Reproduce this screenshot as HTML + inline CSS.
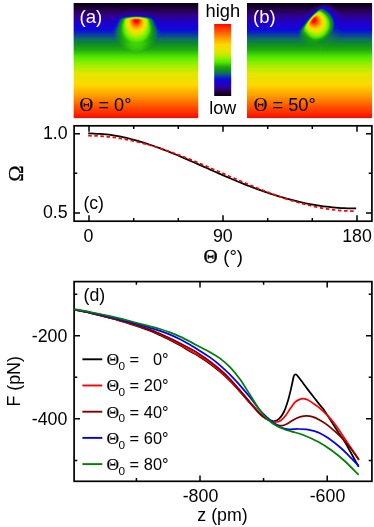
<!DOCTYPE html>
<html lang="en"><head><meta charset="utf-8"><title>Figure</title>
<style>html,body{margin:0;padding:0;background:#fff}svg{display:block}text{font-family:"Liberation Sans",sans-serif;fill:#000}.sy{font-family:"Liberation Serif","DejaVu Serif",serif;stroke:#000;stroke-width:.12}.ax{fill:none;stroke:#000;stroke-width:1.7}.tk{stroke:#000;stroke-width:1.5;fill:none}.cv{fill:none;stroke-width:1.75;stroke-linejoin:round}</style></head><body>
<svg width="374" height="527" viewBox="0 0 374 527">
<defs>
<filter id="cmap" x="0" y="0" width="1" height="1" filterUnits="objectBoundingBox" color-interpolation-filters="sRGB"><feComponentTransfer><feFuncR type="table" tableValues="0.031 0.055 0.086 0.121 0.156 0.168 0.179 0.185 0.169 0.154 0.138 0.123 0.108 0.093 0.077 0.062 0.051 0.039 0.035 0.047 0.059 0.063 0.063 0.063 0.084 0.107 0.135 0.182 0.229 0.275 0.326 0.395 0.464 0.533 0.600 0.656 0.711 0.766 0.821 0.876 0.896 0.915 0.934 0.952 0.971 0.989 1.000 1.000 1.000 1.000 1.000 1.000 1.000 1.000 1.000 1.000 1.000 1.000 1.000 1.000 1.000 1.000 0.996 0.988 0.980"/><feFuncG type="table" tableValues="0.000 0.000 0.000 0.000 0.000 0.000 0.000 0.000 0.000 0.000 0.000 0.001 0.009 0.016 0.024 0.033 0.115 0.197 0.275 0.347 0.419 0.471 0.516 0.560 0.596 0.631 0.672 0.734 0.796 0.859 0.911 0.919 0.926 0.934 0.941 0.935 0.928 0.922 0.916 0.910 0.901 0.891 0.881 0.872 0.862 0.853 0.830 0.790 0.751 0.711 0.671 0.632 0.591 0.543 0.494 0.446 0.398 0.349 0.302 0.260 0.218 0.175 0.129 0.080 0.031"/><feFuncB type="table" tableValues="0.063 0.109 0.171 0.241 0.311 0.391 0.471 0.547 0.609 0.671 0.734 0.788 0.811 0.834 0.856 0.876 0.783 0.689 0.595 0.500 0.404 0.313 0.224 0.135 0.105 0.081 0.060 0.044 0.028 0.013 0.000 0.000 0.000 0.000 0.000 0.000 0.000 0.000 0.000 0.000 0.000 0.000 0.000 0.000 0.000 0.000 0.000 0.000 0.000 0.000 0.000 0.000 0.000 0.000 0.000 0.000 0.000 0.000 0.000 0.000 0.000 0.000 0.000 0.000 0.000"/></feComponentTransfer></filter>
<linearGradient id="bg" x1="0" y1="0" x2="0" y2="1"><stop offset="0" stop-color="#000"/><stop offset="1" stop-color="#fff"/></linearGradient>
<linearGradient id="cb" x1="0" y1="0" x2="0" y2="1"><stop offset="0" stop-color="#fff"/><stop offset="1" stop-color="#000"/></linearGradient>
<radialGradient id="blob" cx="0.5" cy="0.5" r="0.5"><stop offset="0.00" stop-color="#fff" stop-opacity="1.00"/><stop offset="0.07" stop-color="#fff" stop-opacity="1.00"/><stop offset="0.14" stop-color="#fff" stop-opacity="0.86"/><stop offset="0.23" stop-color="#fff" stop-opacity="0.67"/><stop offset="0.35" stop-color="#fff" stop-opacity="0.45"/><stop offset="0.46" stop-color="#fff" stop-opacity="0.25"/><stop offset="0.56" stop-color="#fff" stop-opacity="0.14"/><stop offset="0.62" stop-color="#fff" stop-opacity="0.09"/><stop offset="0.68" stop-color="#fff" stop-opacity="0.05"/><stop offset="0.78" stop-color="#fff" stop-opacity="0.03"/><stop offset="1.00" stop-color="#fff" stop-opacity="0.00"/></radialGradient>
<radialGradient id="body" cx="0.5" cy="0.5" r="0.5"><stop offset="0" stop-color="#fff" stop-opacity="0.14"/><stop offset="0.4" stop-color="#fff" stop-opacity="0.14"/><stop offset="0.7" stop-color="#fff" stop-opacity="0.085"/><stop offset="1" stop-color="#fff" stop-opacity="0"/></radialGradient>
<radialGradient id="halo" cx="0.5" cy="0.5" r="0.5"><stop offset="0" stop-color="#fff" stop-opacity="0.12"/><stop offset="0.6" stop-color="#fff" stop-opacity="0.08"/><stop offset="1" stop-color="#fff" stop-opacity="0"/></radialGradient>
<filter id="mb" x="-60" y="-60" width="120" height="140" filterUnits="userSpaceOnUse"><feGaussianBlur stdDeviation="0.9"/></filter>
<mask id="cut" maskUnits="userSpaceOnUse" x="-50" y="-50" width="100" height="120"><path filter="url(#mb)" fill="#fff" d="M-48 66V15C-33 15-21 13-21 5Q-21-2.2-13-2.2H13Q21-2.2 21 5C21 13 33 15 48 15V66Z"/></mask>
<clipPath id="clA"><rect x="73.4" y="3" width="125.1" height="115.3"/></clipPath>
<clipPath id="clB"><rect x="247" y="3" width="125.3" height="115.3"/></clipPath>
</defs>
<g filter="url(#cmap)"><g clip-path="url(#clA)"><rect x="73.4" y="3" width="125.1" height="115.3" fill="url(#bg)"/><g transform="translate(136.4 20.0) rotate(0.0)"><ellipse cx="0" cy="6" rx="25" ry="16" fill="url(#halo)"/><g mask="url(#cut)"><ellipse cx="0" cy="14" rx="22" ry="18" fill="url(#body)"/><ellipse cx="0" cy="0" rx="28" ry="33" fill="url(#blob)"/></g></g></g></g>
<g filter="url(#cmap)"><g clip-path="url(#clB)"><rect x="247" y="3" width="125.3" height="115.3" fill="url(#bg)"/><g transform="translate(313.2 19.8) rotate(-50.0)"><ellipse cx="0" cy="6" rx="25" ry="16" fill="url(#halo)"/><g mask="url(#cut)"><ellipse cx="0" cy="10" rx="17" ry="13" fill="url(#body)"/><ellipse cx="0" cy="0" rx="28" ry="33" fill="url(#blob)"/></g></g></g></g>
<g filter="url(#cmap)"><rect x="214.2" y="24" width="17" height="72" fill="url(#cb)"/></g>
<text x="79.5" y="22.8" font-size="18.6" style="fill:#fff">(a)</text>
<text x="253" y="22.8" font-size="18.6" style="fill:#fff">(b)</text>
<text x="79.6" y="110.7" font-size="18.2"><tspan class="sy" font-size="19">Θ</tspan> = 0°</text>
<text x="253.7" y="110.7" font-size="18.2"><tspan class="sy" font-size="19">Θ</tspan> = 50°</text>
<text x="222.8" y="16.7" font-size="18.3" text-anchor="middle">high</text>
<text x="222.8" y="114.2" font-size="18" text-anchor="middle">low</text>
<rect class="ax" x="74.1" y="125.8" width="297.8" height="95.4"/>
<path class="tk" d="M89.0 221.2v-5.9M89.0 125.8v5.9M133.7 221.2v-3.2M133.7 125.8v3.2M178.3 221.2v-3.2M178.3 125.8v3.2M223.0 221.2v-5.9M223.0 125.8v5.9M267.7 221.2v-3.2M267.7 125.8v3.2M312.3 221.2v-3.2M312.3 125.8v3.2M357.0 221.2v-5.9M357.0 125.8v5.9M74.1 133.7h5.9M371.9 133.7h-5.9M74.1 173.3h3.2M371.9 173.3h-3.2M74.1 212.9h5.9M371.9 212.9h-5.9"/>
<path class="cv" stroke="#000" d="M88.20 133.43C89.19 133.45 92.17 133.47 94.16 133.54C96.14 133.62 98.13 133.73 100.11 133.88C102.10 134.03 104.08 134.21 106.07 134.44C108.05 134.66 110.04 134.92 112.02 135.21C114.01 135.51 115.99 135.84 117.98 136.20C119.96 136.56 121.95 136.96 123.93 137.39C125.92 137.81 127.90 138.28 129.89 138.77C131.87 139.26 133.86 139.78 135.84 140.33C137.83 140.88 139.81 141.46 141.80 142.07C143.79 142.67 145.77 143.31 147.76 143.96C149.74 144.62 151.73 145.30 153.71 146.00C155.70 146.70 157.68 147.43 159.67 148.17C161.65 148.91 163.64 149.67 165.62 150.45C167.61 151.23 169.59 152.02 171.58 152.83C173.56 153.64 175.55 154.46 177.53 155.29C179.52 156.13 181.50 156.97 183.49 157.83C185.47 158.68 187.46 159.54 189.44 160.41C191.43 161.28 193.41 162.15 195.40 163.03C197.39 163.91 199.37 164.79 201.36 165.67C203.34 166.56 205.33 167.44 207.31 168.32C209.30 169.21 211.28 170.09 213.27 170.97C215.25 171.84 217.24 172.72 219.22 173.59C221.21 174.46 223.19 175.32 225.18 176.18C227.16 177.04 229.15 177.89 231.13 178.73C233.12 179.57 235.10 180.40 237.09 181.22C239.07 182.04 241.06 182.85 243.04 183.65C245.03 184.44 247.01 185.23 249.00 186.00C250.99 186.77 252.97 187.52 254.96 188.26C256.94 189.00 258.93 189.73 260.91 190.44C262.90 191.15 264.88 191.84 266.87 192.52C268.85 193.19 270.84 193.85 272.82 194.49C274.81 195.12 276.79 195.74 278.78 196.34C280.76 196.94 282.75 197.52 284.73 198.08C286.72 198.64 288.70 199.18 290.69 199.70C292.67 200.22 294.66 200.72 296.64 201.19C298.63 201.67 300.61 202.12 302.60 202.55C304.59 202.98 306.57 203.39 308.56 203.78C310.54 204.17 312.53 204.53 314.51 204.87C316.50 205.21 318.48 205.53 320.47 205.82C322.45 206.11 324.44 206.38 326.42 206.62C328.41 206.87 330.39 207.09 332.38 207.29C334.36 207.48 336.35 207.66 338.33 207.80C340.32 207.95 342.30 208.07 344.29 208.17C346.27 208.27 348.26 208.35 350.24 208.40C352.23 208.45 355.21 208.46 356.20 208.47"/>
<path class="cv" stroke="#f00" stroke-width="2.5" stroke-dasharray="3.5 2.6" d="M88.20 135.73C89.19 135.75 92.17 135.76 94.16 135.82C96.14 135.88 98.13 135.98 100.11 136.10C102.10 136.22 104.08 136.38 106.07 136.56C108.05 136.74 110.04 136.96 112.02 137.20C114.01 137.45 115.99 137.72 117.98 138.02C119.96 138.32 121.95 138.65 123.93 139.01C125.92 139.37 127.90 139.75 129.89 140.17C131.87 140.58 133.86 141.02 135.84 141.48C137.83 141.95 139.81 142.44 141.80 142.95C143.79 143.47 145.77 144.01 147.76 144.57C149.74 145.13 151.73 145.72 153.71 146.32C155.70 146.93 157.68 147.56 159.67 148.20C161.65 148.85 163.64 149.52 165.62 150.20C167.61 150.89 169.59 151.59 171.58 152.31C173.56 153.03 175.55 153.77 177.53 154.51C179.52 155.26 181.50 156.03 183.49 156.81C185.47 157.59 187.46 158.38 189.44 159.18C191.43 159.98 193.41 160.79 195.40 161.61C197.39 162.43 199.37 163.27 201.36 164.10C203.34 164.94 205.33 165.79 207.31 166.64C209.30 167.49 211.28 168.35 213.27 169.20C215.25 170.06 217.24 170.93 219.22 171.79C221.21 172.66 223.19 173.52 225.18 174.39C227.16 175.25 229.15 176.12 231.13 176.98C233.12 177.85 235.10 178.71 237.09 179.56C239.07 180.42 241.06 181.27 243.04 182.12C245.03 182.96 247.01 183.80 249.00 184.64C250.99 185.47 252.97 186.29 254.96 187.10C256.94 187.92 258.93 188.72 260.91 189.51C262.90 190.30 264.88 191.08 266.87 191.84C268.85 192.61 270.84 193.36 272.82 194.10C274.81 194.83 276.79 195.55 278.78 196.25C280.76 196.95 282.75 197.64 284.73 198.30C286.72 198.96 288.70 199.61 290.69 200.23C292.67 200.85 294.66 201.45 296.64 202.03C298.63 202.61 300.61 203.17 302.60 203.70C304.59 204.23 306.57 204.73 308.56 205.21C310.54 205.69 312.53 206.15 314.51 206.57C316.50 207.00 318.48 207.40 320.47 207.77C322.45 208.14 324.44 208.48 326.42 208.80C328.41 209.11 330.39 209.39 332.38 209.64C334.36 209.90 336.35 210.12 338.33 210.31C340.32 210.50 342.30 210.66 344.29 210.79C346.27 210.91 348.26 211.01 350.24 211.07C352.23 211.14 355.21 211.15 356.20 211.17"/>
<text x="67.6" y="139.3" font-size="17.8" text-anchor="end">1.0</text>
<text x="67.6" y="218.4" font-size="17.8" text-anchor="end">0.5</text>
<text x="88.5" y="242.3" font-size="17.8" text-anchor="middle">0</text>
<text x="222.8" y="242.3" font-size="17.8" text-anchor="middle">90</text>
<text x="357" y="242.3" font-size="17.8" text-anchor="middle">180</text>
<text x="83.4" y="209.3" font-size="17.7">(c)</text>
<text x="203.6" y="262.6" font-size="18.5"><tspan class="sy" font-size="19.6" style="stroke-width:.35">Θ</tspan><tspan dx="0.4"> (°)</tspan></text>
<text class="sy" transform="translate(22.7 173.6) rotate(-90)" font-size="21.9" text-anchor="middle" style="stroke-width:.3">Ω</text>
<rect class="ax" x="74.1" y="281.6" width="297.8" height="199.7"/>
<path class="tk" d="M136.4 481.3v-3.2M136.4 281.6v3.2M200.0 481.3v-5.9M200.0 281.6v5.9M263.6 481.3v-3.2M263.6 281.6v3.2M327.2 481.3v-5.9M327.2 281.6v5.9M74.1 460.4h3.2M371.9 460.4h-3.2M74.1 418.8h5.9M371.9 418.8h-5.9M74.1 377.3h3.2M371.9 377.3h-3.2M74.1 335.8h5.9M371.9 335.8h-5.9M74.1 294.3h3.2M371.9 294.3h-3.2"/>
<clipPath id="clD"><rect x="74.1" y="281.6" width="297.8" height="199.7"/></clipPath>
<g clip-path="url(#clD)">
<path class="cv" stroke="#000" d="M74.00 309.60C76.67 310.13 84.00 311.40 90.00 312.80C96.00 314.20 103.33 316.17 110.00 318.00C116.67 319.83 123.33 321.70 130.00 323.80C136.67 325.90 145.00 328.72 150.00 330.60C155.00 332.48 156.67 333.55 160.00 335.10C163.33 336.65 166.67 338.20 170.00 339.90C173.33 341.60 176.67 343.42 180.00 345.30C183.33 347.18 186.67 349.27 190.00 351.20C193.33 353.13 196.67 354.82 200.00 356.90C203.33 358.98 206.67 361.23 210.00 363.70C213.33 366.17 216.67 368.83 220.00 371.70C223.33 374.57 226.67 377.58 230.00 380.90C233.33 384.22 236.67 387.92 240.00 391.60C243.33 395.28 246.67 399.27 250.00 403.00C253.33 406.73 257.50 411.50 260.00 414.00C262.50 416.50 263.40 416.93 265.00 418.00C266.60 419.07 268.03 419.87 269.60 420.40C271.17 420.93 272.78 421.48 274.40 421.20C276.02 420.92 277.68 420.32 279.30 418.70C280.92 417.08 282.63 414.57 284.10 411.50C285.57 408.43 286.90 404.30 288.10 400.30C289.30 396.30 290.37 391.45 291.30 387.50C292.23 383.55 293.08 378.75 293.70 376.60C294.32 374.45 294.55 374.93 295.00 374.60C295.45 374.27 295.82 374.20 296.40 374.60C296.98 375.00 297.40 375.60 298.50 377.00C299.60 378.40 301.40 380.85 303.00 383.00C304.60 385.15 305.27 386.22 308.10 389.90C310.93 393.58 317.18 401.50 320.00 405.10C322.82 408.70 322.05 407.12 325.00 411.50C327.95 415.88 334.53 426.55 337.70 431.40C340.87 436.25 341.88 437.20 344.00 440.60C346.12 444.00 347.95 447.43 350.40 451.80C352.85 456.17 357.32 464.30 358.70 466.80"/>
<path class="cv" stroke="#f00" d="M74.00 309.60C76.67 310.13 84.00 311.43 90.00 312.80C96.00 314.17 103.33 316.03 110.00 317.80C116.67 319.57 123.33 321.37 130.00 323.40C136.67 325.43 145.00 328.17 150.00 330.00C155.00 331.83 156.67 332.87 160.00 334.40C163.33 335.93 166.67 337.50 170.00 339.20C173.33 340.90 176.67 342.72 180.00 344.60C183.33 346.48 186.67 348.57 190.00 350.50C193.33 352.43 196.67 354.12 200.00 356.20C203.33 358.28 206.67 360.53 210.00 363.00C213.33 365.47 216.67 368.12 220.00 371.00C223.33 373.88 226.67 376.93 230.00 380.30C233.33 383.67 236.67 387.45 240.00 391.20C243.33 394.95 246.67 399.00 250.00 402.80C253.33 406.60 257.50 411.47 260.00 414.00C262.50 416.53 263.13 416.83 265.00 418.00C266.87 419.17 269.37 420.33 271.20 421.00C273.03 421.67 274.38 422.10 276.00 422.00C277.62 421.90 279.28 421.48 280.90 420.40C282.52 419.32 284.10 417.52 285.70 415.50C287.30 413.48 288.90 410.57 290.50 408.30C292.10 406.03 293.70 403.42 295.30 401.90C296.90 400.38 298.77 399.73 300.10 399.20C301.43 398.67 301.97 398.57 303.30 398.70C304.63 398.83 306.23 399.07 308.10 400.00C309.97 400.93 312.52 402.92 314.50 404.30C316.48 405.68 317.92 406.52 320.00 408.30C322.08 410.08 324.58 412.45 327.00 415.00C329.42 417.55 331.12 419.03 334.50 423.60C337.88 428.17 343.23 436.40 347.30 442.40C351.37 448.40 356.97 456.73 358.90 459.60"/>
<path class="cv" stroke="#800000" d="M74.00 309.60C76.67 310.13 84.00 311.47 90.00 312.80C96.00 314.13 103.33 315.90 110.00 317.60C116.67 319.30 123.33 321.00 130.00 323.00C136.67 325.00 145.00 327.82 150.00 329.60C155.00 331.38 156.67 332.27 160.00 333.70C163.33 335.13 166.67 336.62 170.00 338.20C173.33 339.78 176.67 341.47 180.00 343.20C183.33 344.93 186.67 346.72 190.00 348.60C193.33 350.48 196.67 352.37 200.00 354.50C203.33 356.63 206.67 358.90 210.00 361.40C213.33 363.90 216.67 366.57 220.00 369.50C223.33 372.43 226.67 375.55 230.00 379.00C233.33 382.45 236.67 386.33 240.00 390.20C243.33 394.07 246.67 398.27 250.00 402.20C253.33 406.13 257.33 411.10 260.00 413.80C262.67 416.50 263.87 416.90 266.00 418.40C268.13 419.90 270.87 421.70 272.80 422.80C274.73 423.90 275.98 424.53 277.60 425.00C279.22 425.47 280.88 425.80 282.50 425.60C284.12 425.40 285.43 424.78 287.30 423.80C289.17 422.82 291.57 420.85 293.70 419.70C295.83 418.55 297.97 417.55 300.10 416.90C302.23 416.25 304.37 415.82 306.50 415.80C308.63 415.78 310.65 416.07 312.90 416.80C315.15 417.53 317.45 418.73 320.00 420.20C322.55 421.67 324.72 422.80 328.20 425.60C331.68 428.40 337.20 433.27 340.90 437.00C344.60 440.73 347.40 444.18 350.40 448.00C353.40 451.82 357.48 457.92 358.90 459.90"/>
<path class="cv" stroke="#00f" d="M74.00 309.40C76.67 309.90 84.00 311.17 90.00 312.40C96.00 313.63 103.33 315.23 110.00 316.80C116.67 318.37 123.33 319.97 130.00 321.80C136.67 323.63 145.00 326.30 150.00 327.80C155.00 329.30 156.67 329.67 160.00 330.80C163.33 331.93 166.67 333.20 170.00 334.60C173.33 336.00 176.67 337.50 180.00 339.20C183.33 340.90 186.67 342.85 190.00 344.80C193.33 346.75 196.67 348.80 200.00 350.90C203.33 353.00 206.67 355.00 210.00 357.40C213.33 359.80 216.67 362.43 220.00 365.30C223.33 368.17 226.67 371.25 230.00 374.60C233.33 377.95 236.67 381.62 240.00 385.40C243.33 389.18 246.67 393.13 250.00 397.30C253.33 401.47 257.05 406.95 260.00 410.40C262.95 413.85 265.03 415.60 267.70 418.00C270.37 420.40 273.53 423.13 276.00 424.80C278.47 426.47 280.35 427.25 282.50 428.00C284.65 428.75 286.23 429.13 288.90 429.30C291.57 429.47 295.57 428.98 298.50 429.00C301.43 429.02 303.83 429.05 306.50 429.40C309.17 429.75 312.25 430.47 314.50 431.10C316.75 431.73 317.72 432.05 320.00 433.20C322.28 434.35 324.72 435.53 328.20 438.00C331.68 440.47 337.20 444.78 340.90 448.00C344.60 451.22 347.43 454.33 350.40 457.30C353.37 460.27 357.32 464.38 358.70 465.80"/>
<path class="cv" stroke="#008000" d="M74.00 309.20C76.67 309.67 84.00 310.83 90.00 312.00C96.00 313.17 103.33 314.70 110.00 316.20C116.67 317.70 123.33 319.30 130.00 321.00C136.67 322.70 145.00 325.07 150.00 326.40C155.00 327.73 156.67 328.00 160.00 329.00C163.33 330.00 166.67 331.13 170.00 332.40C173.33 333.67 176.67 335.07 180.00 336.60C183.33 338.13 186.67 339.87 190.00 341.60C193.33 343.33 196.67 345.23 200.00 347.00C203.33 348.77 206.67 350.30 210.00 352.20C213.33 354.10 216.67 355.90 220.00 358.40C223.33 360.90 226.67 363.72 230.00 367.20C233.33 370.68 236.67 374.70 240.00 379.30C243.33 383.90 246.67 389.60 250.00 394.80C253.33 400.00 257.00 406.38 260.00 410.50C263.00 414.62 265.33 416.98 268.00 419.50C270.67 422.02 273.32 423.98 276.00 425.60C278.68 427.22 281.42 428.20 284.10 429.20C286.78 430.20 288.90 430.63 292.10 431.60C295.30 432.57 298.88 433.25 303.30 435.00C307.72 436.75 313.92 439.55 318.60 442.10C323.28 444.65 327.15 447.23 331.40 450.30C335.65 453.37 339.55 456.40 344.10 460.50C348.65 464.60 356.27 472.50 358.70 474.90"/>
</g>
<text x="67.4" y="342.0" font-size="17.8" text-anchor="end">-200</text>
<text x="67.4" y="425.0" font-size="17.8" text-anchor="end">-400</text>
<text x="200.5" y="502.4" font-size="17.8" text-anchor="middle">-800</text>
<text x="327.5" y="502.4" font-size="17.8" text-anchor="middle">-600</text>
<text x="222.5" y="521.3" font-size="17.8" text-anchor="middle">z (pm)</text>
<text transform="translate(20.2 381.3) rotate(-90)" font-size="17.8" text-anchor="middle">F (pN)</text>
<text x="83.5" y="301" font-size="17.7">(d)</text>
<path d="M82.4 359.3H102.3" stroke="#000" stroke-width="1.9" fill="none"/>
<text y="365.2" font-size="16.4"><tspan class="sy" x="106.4" font-size="17.5">Θ</tspan><tspan x="118.5" dy="4.8" font-size="11.8">0</tspan><tspan x="129.6" dy="-4.8">=</tspan><tspan x="168.6" text-anchor="end">0°</tspan></text>
<path d="M82.4 385.5H102.3" stroke="#f00" stroke-width="1.9" fill="none"/>
<text y="391.4" font-size="16.4"><tspan class="sy" x="106.4" font-size="17.5">Θ</tspan><tspan x="118.5" dy="4.8" font-size="11.8">0</tspan><tspan x="129.6" dy="-4.8">=</tspan><tspan x="168.6" text-anchor="end">20°</tspan></text>
<path d="M82.4 411.7H102.3" stroke="#800000" stroke-width="1.9" fill="none"/>
<text y="417.6" font-size="16.4"><tspan class="sy" x="106.4" font-size="17.5">Θ</tspan><tspan x="118.5" dy="4.8" font-size="11.8">0</tspan><tspan x="129.6" dy="-4.8">=</tspan><tspan x="168.6" text-anchor="end">40°</tspan></text>
<path d="M82.4 437.9H102.3" stroke="#00f" stroke-width="1.9" fill="none"/>
<text y="443.8" font-size="16.4"><tspan class="sy" x="106.4" font-size="17.5">Θ</tspan><tspan x="118.5" dy="4.8" font-size="11.8">0</tspan><tspan x="129.6" dy="-4.8">=</tspan><tspan x="168.6" text-anchor="end">60°</tspan></text>
<path d="M82.4 464.1H102.3" stroke="#008000" stroke-width="1.9" fill="none"/>
<text y="470.0" font-size="16.4"><tspan class="sy" x="106.4" font-size="17.5">Θ</tspan><tspan x="118.5" dy="4.8" font-size="11.8">0</tspan><tspan x="129.6" dy="-4.8">=</tspan><tspan x="168.6" text-anchor="end">80°</tspan></text>
</svg></body></html>
